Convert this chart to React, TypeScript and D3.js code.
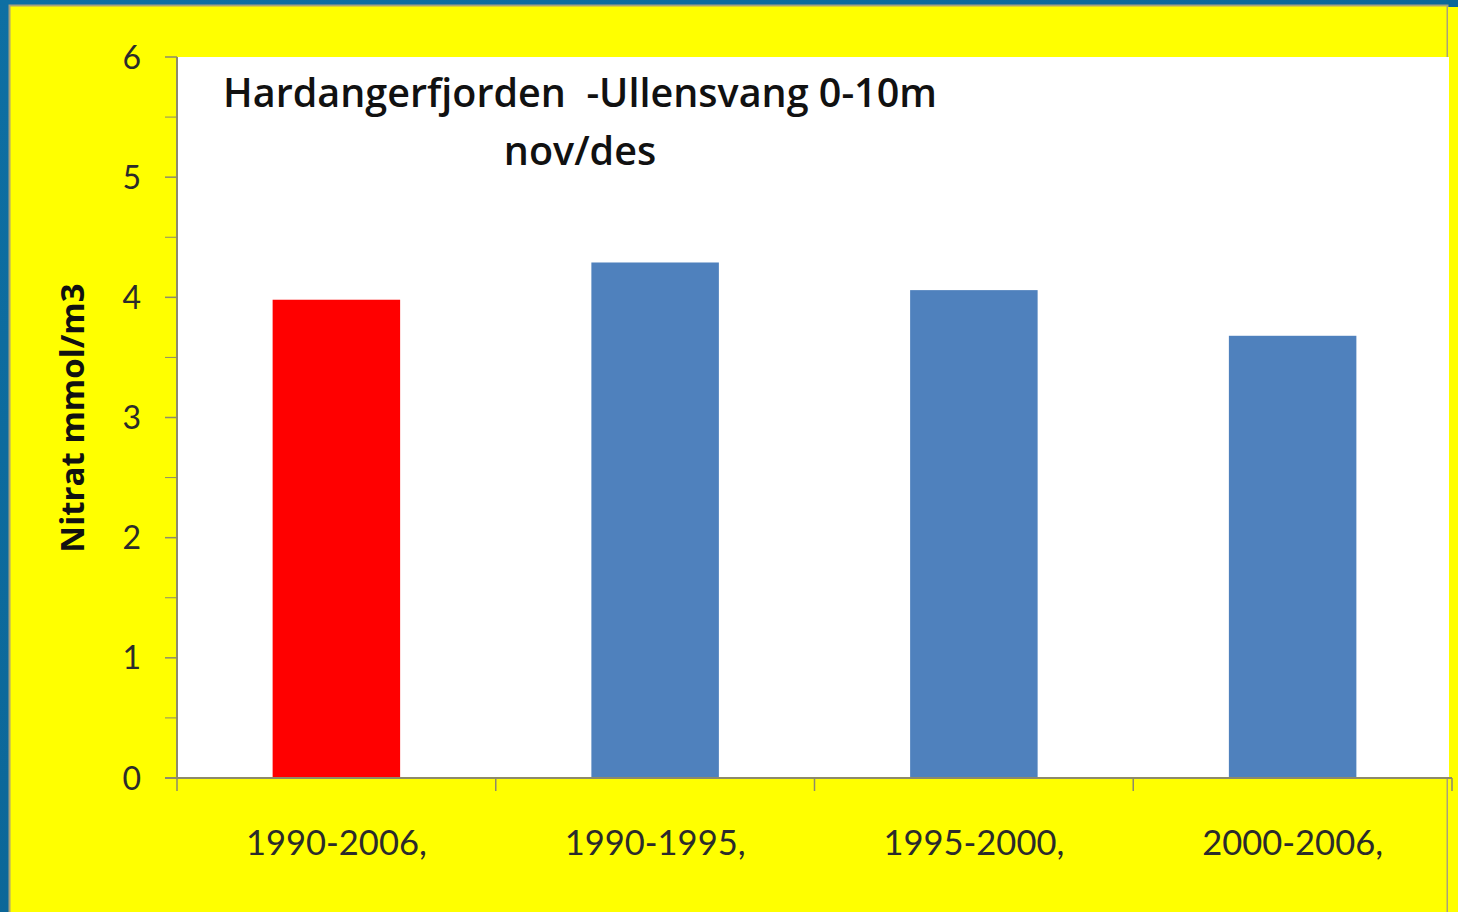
import React from "react";
import * as d3 from "d3";

const categories = ["1990-2006,", "1990-1995,", "1995-2000,", "2000-2006,"];
const values = [3.98, 4.29, 4.06, 3.68];
const barColors = ["#ff0000", "#4f81bd", "#4f81bd", "#4f81bd"];
const yTicks = [0, 1, 2, 3, 4, 5, 6];
const yMinorTicks = [0.5, 1.5, 2.5, 3.5, 4.5, 5.5];
const titleLines = ["Hardangerfjorden  -Ullensvang 0-10m", "nov/des"];
const yLabel = "Nitrat mmol/m3";

const W = 1458;
const H = 912;
const plot = { left: 177, right: 1452, top: 57, bottom: 778 };
const fontA = "'Open Sans', Lato, 'DejaVu Sans', sans-serif";
const fontB = "Lato, 'Open Sans', 'DejaVu Sans', sans-serif";

export default function App() {
  const x = d3
    .scaleBand<string>()
    .domain(categories)
    .range([plot.left, plot.right])
    .paddingInner(0)
    .paddingOuter(0);
  const y = d3.scaleLinear().domain([0, 6]).range([plot.bottom, plot.top]);
  const barW = x.bandwidth() * 0.4;
  const boundaries = [...categories.map((c) => x(c) as number), plot.right];
  const axisColor = "#8d8a6a";

  return (
    <div style={{ position: "fixed", left: 0, top: 0, width: W, height: H }}>
      <svg width={W} height={H} style={{ display: "block" }}>
        <defs>
          <linearGradient id="bg" x1="0" y1="0" x2="1" y2="1">
            <stop offset="0" stopColor="#0e6fa3" />
            <stop offset="1" stopColor="#0a5f8e" />
          </linearGradient>
        </defs>
        <rect x={0} y={0} width={W} height={H} fill="url(#bg)" />
        <rect x={9.5} y={5.5} width={1438} height={H} fill="#ffff00" stroke="#aaa27a" strokeWidth={2} />
        <rect x={1448} y={7} width={10} height={H} fill="#ffff00" />
        <rect
          x={plot.left}
          y={plot.top}
          width={plot.right - plot.left - 3}
          height={plot.bottom - plot.top}
          fill="#ffffff"
        />
        {categories.map((c, i) => (
          <rect
            key={c}
            x={(x(c) as number) + (x.bandwidth() - barW) / 2}
            y={y(values[i])}
            width={barW}
            height={y(0) - y(values[i])}
            fill={barColors[i]}
          />
        ))}
        {/* y axis */}
        <line x1={plot.left} x2={plot.left} y1={plot.top} y2={plot.bottom} stroke={axisColor} strokeWidth={2} />
        {yTicks.map((t) => (
          <g key={t}>
            <line x1={plot.left - 12} x2={plot.left} y1={y(t)} y2={y(t)} stroke={axisColor} strokeWidth={1.5} />
            <text
              x={141}
              y={y(t)}
              dy="0.36em"
              textAnchor="end"
              fontFamily={fontB}
              fontSize={32}
              fill="#2b2b2b"
            >
              {t}
            </text>
          </g>
        ))}
        {yMinorTicks.map((t) => (
          <line key={t} x1={plot.left - 12} x2={plot.left} y1={y(t)} y2={y(t)} stroke={axisColor} strokeWidth={1} />
        ))}
        {/* x axis */}
        <line x1={plot.left - 12} x2={plot.right} y1={plot.bottom} y2={plot.bottom} stroke={axisColor} strokeWidth={2} />
        {boundaries.map((b, i) => (
          <line key={i} x1={b} x2={b} y1={plot.bottom} y2={plot.bottom + 13} stroke={axisColor} strokeWidth={1.5} />
        ))}
        {categories.map((c) => (
          <text
            key={c}
            x={(x(c) as number) + x.bandwidth() / 2}
            y={855}
            textAnchor="middle"
            fontFamily={fontB}
            fontSize={34.5}
            fill="#2b2b2b"
          >
            {c}
          </text>
        ))}
        {/* title */}
        {titleLines.map((t, i) => (
          <text
            key={t}
            x={580}
            y={107 + i * 58}
            textAnchor="middle"
            fontFamily={fontA}
            fontSize={39.5}
            fontWeight={600}
            fill="#111"
            style={{ whiteSpace: "pre" }}
          >
            {t}
          </text>
        ))}
        {/* y label */}
        <text
          transform={`translate(84, 418) rotate(-90)`}
          textAnchor="middle"
          fontFamily={fontA}
          fontSize={33}
          fontWeight={700}
          fill="#111"
        >
          {yLabel}
        </text>
      </svg>
    </div>
  );
}
